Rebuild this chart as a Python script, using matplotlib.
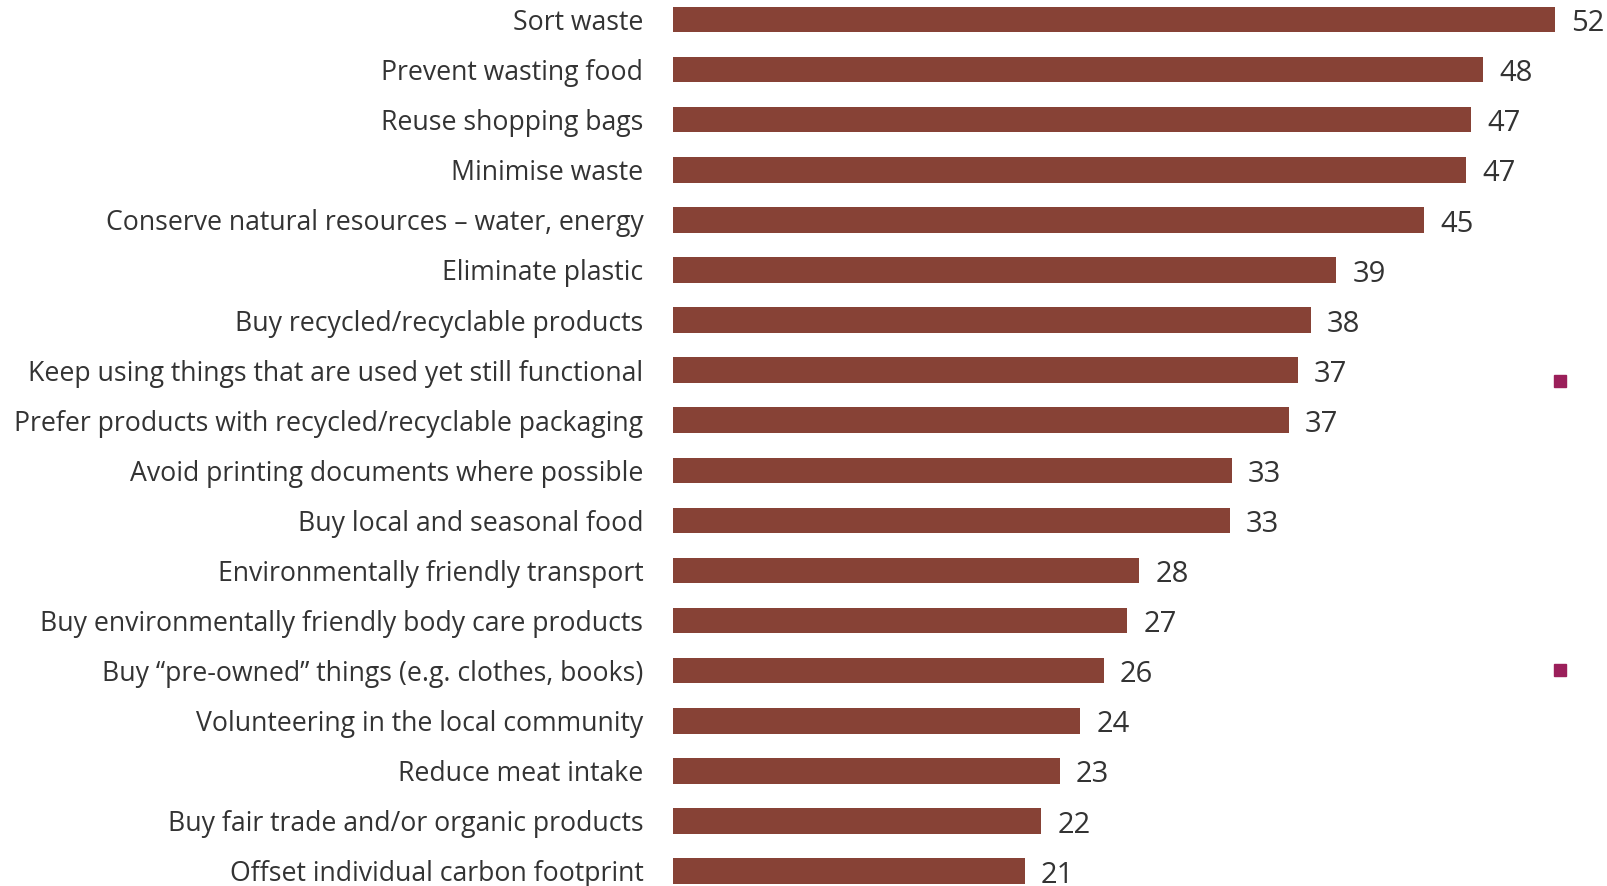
import matplotlib.pyplot as plt
from matplotlib.lines import Line2D

labels = [
    "Sort waste",
    "Prevent wasting food",
    "Reuse shopping bags",
    "Minimise waste",
    "Conserve natural resources – water, energy",
    "Eliminate plastic",
    "Buy recycled/recyclable products",
    "Keep using things that are used yet still functional",
    "Prefer products with recycled/recyclable packaging",
    "Avoid printing documents where possible",
    "Buy local and seasonal food",
    "Environmentally friendly transport",
    "Buy environmentally friendly body care products",
    "Buy “pre-owned” things (e.g. clothes, books)",
    "Volunteering in the local community",
    "Reduce meat intake",
    "Buy fair trade and/or organic products",
    "Offset individual carbon footprint",
]
# unrounded bar lengths (labels show them rounded)
values = [52.4, 48.1, 47.4, 47.1, 44.6, 39.4, 37.9, 37.1, 36.6,
          33.2, 33.1, 27.7, 27.0, 25.6, 24.2, 23.0, 21.9, 20.9]

bar_color = "#874236"
text_color = "#333333"

plt.rcParams["font.family"] = ["Open Sans", "DejaVu Sans"]

fig = plt.figure(figsize=(16.07, 8.86), dpi=100)
W, H = 1607, 886
x0, x1 = 672.5, 1555.4
ax = fig.add_axes([x0 / W, 0, (x1 - x0) / W, 1])

pos = list(range(len(values)))
ax.barh(pos, values, height=0.51, color=bar_color)

# map the first/last bar centres to their pixel rows
top_px, bot_px = 19.5, 871
per_px = (len(values) - 1) / (bot_px - top_px)
ax.set_ylim(len(values) - 1 + (H - bot_px) * per_px, -top_px * per_px)
ax.set_xlim(0, max(values))

ax.set_yticks(pos)
ax.set_yticklabels(labels, fontsize=19.2, color=text_color)
ax.tick_params(axis="y", length=0, pad=21)
ax.set_xticks([])
for s in ax.spines.values():
    s.set_visible(False)

for p, v in zip(pos, values):
    ax.annotate(f"{v:.0f}", (v, p), xytext=(11.5, -3), textcoords="offset points",
                va="center", ha="left", fontsize=21, color=text_color,
                annotation_clip=False)

# two small legend-like squares on the right edge
for yy in [381, 670]:
    fig.add_artist(Line2D([1560 / W], [1 - yy / H], marker="s", markersize=8,
                          color="#9b1f5a", linestyle="none"))

fig.savefig("out.png", dpi=100)
